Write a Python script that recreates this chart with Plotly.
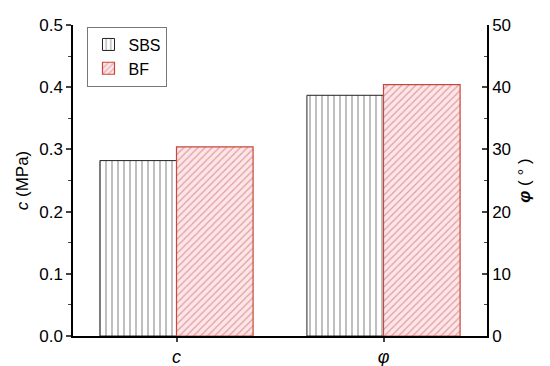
import plotly.graph_objects as go

categories = ["<i>c</i>", "<i>φ</i>"]
x_pos = [0, 1]
sbs_c = 0.282
bf_c = 0.304
sbs_phi = 38.7
bf_phi = 40.4

font = "Liberation Sans, Arial, sans-serif"
red = "#c9473a"

fig = go.Figure()
sbs_pat = dict(shape="|", fgcolor="#555555", bgcolor="white", size=6, solidity=0.25)
bf_pat = dict(shape="/", fgcolor="#b5614c", bgcolor="#ffe4ea", size=5, solidity=0.25)

fig.add_trace(go.Bar(x=[x_pos[0]], y=[sbs_c], name="SBS", width=0.37, offset=-0.37,
                     marker=dict(color="white", line=dict(color="#222222", width=1), pattern=sbs_pat)))
fig.add_trace(go.Bar(x=[x_pos[0]], y=[bf_c], name="BF", width=0.37, offset=0,
                     marker=dict(color="#ffe4ea", line=dict(color=red, width=1.2), pattern=bf_pat)))
fig.add_trace(go.Bar(x=[x_pos[1]], y=[sbs_phi], name="SBS", width=0.37, offset=-0.37, yaxis="y2",
                     showlegend=False,
                     marker=dict(color="white", line=dict(color="#222222", width=1), pattern=sbs_pat)))
fig.add_trace(go.Bar(x=[x_pos[1]], y=[bf_phi], name="BF", width=0.37, offset=0, yaxis="y2",
                     showlegend=False,
                     marker=dict(color="#ffe4ea", line=dict(color=red, width=1.2), pattern=bf_pat)))

fig.update_layout(
    width=550, height=366,
    margin=dict(l=73, r=63, t=25, b=30),
    paper_bgcolor="white", plot_bgcolor="white",
    font=dict(family=font, size=17, color="black"),
    barmode="overlay",
    xaxis=dict(range=[-0.5, 1.5], tickvals=x_pos, ticktext=categories, automargin=False,
               showline=True, linecolor="black", linewidth=1.5, ticks="outside",
               ticklen=4, tickwidth=1.5, showgrid=False, zeroline=False,
               tickfont=dict(size=18)),
    yaxis=dict(range=[0, 0.5], dtick=0.1, tickformat=".1f", showline=True, automargin=False,
               linecolor="black", linewidth=1.5, ticks="outside", ticklen=5, tickwidth=1.5,
               minor=dict(ticks="outside", ticklen=3, dtick=0.05, tickwidth=1.2),
               showgrid=False, zeroline=False,
               title=dict(text="<i>c</i> (MPa)", standoff=6, font=dict(size=17))),
    yaxis2=dict(range=[0, 50], dtick=10, overlaying="y", side="right", showline=True,
                automargin=False,
                linecolor="black", linewidth=1.5, ticks="inside", ticklen=5, tickwidth=1.5,
                minor=dict(ticks="inside", ticklen=3, dtick=5, tickwidth=1.2),
                showgrid=False, zeroline=False,
                title=dict(text="<b><i>φ</i></b> ( ° )", standoff=8, font=dict(size=17))),
    legend=dict(x=0.035, y=0.995, xanchor="left", yanchor="top",
                bordercolor="#777777", borderwidth=1, bgcolor="white",
                font=dict(size=16), itemwidth=30, tracegroupgap=0),
)

# drop the default page margin so the figure sits at the window corner
fig.write_html("out.html", config={"displayModeBar": False},
               post_script="document.body.style.margin='0px';")
